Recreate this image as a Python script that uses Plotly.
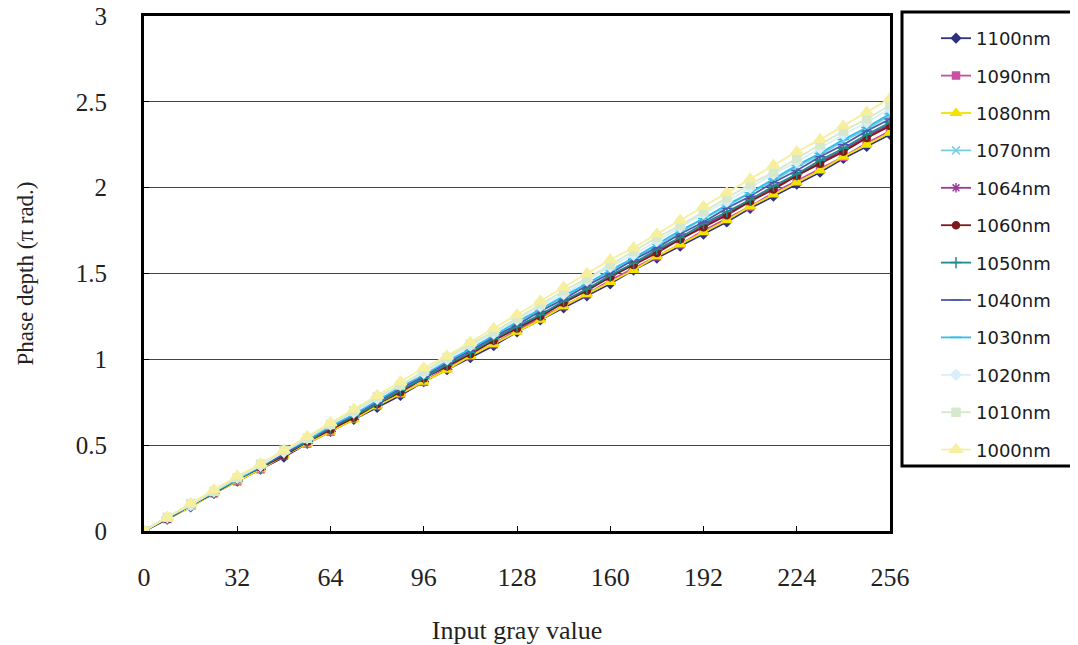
import plotly.graph_objects as go

# Input gray values (x)
gray = [0, 8, 16, 24, 32, 40, 48, 56, 64, 72, 80, 88, 96, 104, 112, 120, 128,
        136, 144, 152, 160, 168, 176, 184, 192, 200, 208, 216, 224, 232, 240, 248, 256]

# Phase depth (pi rad.), per wavelength
p1100 = [0, 0.07, 0.14, 0.22, 0.29, 0.36, 0.43, 0.51, 0.58, 0.65, 0.72, 0.79, 0.87, 0.94, 1.01, 1.08, 1.16,
         1.23, 1.30, 1.37, 1.44, 1.52, 1.59, 1.66, 1.73, 1.80, 1.88, 1.95, 2.02, 2.09, 2.17, 2.24, 2.31]
p1090 = [0, 0.07, 0.15, 0.22, 0.29, 0.36, 0.44, 0.51, 0.58, 0.66, 0.73, 0.80, 0.87, 0.95, 1.02, 1.09, 1.17,
         1.24, 1.31, 1.38, 1.46, 1.53, 1.60, 1.67, 1.75, 1.82, 1.89, 1.97, 2.04, 2.11, 2.18, 2.26, 2.33]
p1080 = [0, 0.07, 0.14, 0.22, 0.29, 0.36, 0.44, 0.51, 0.58, 0.65, 0.73, 0.80, 0.87, 0.94, 1.02, 1.09, 1.16,
         1.23, 1.31, 1.38, 1.45, 1.52, 1.60, 1.67, 1.74, 1.81, 1.89, 1.96, 2.03, 2.10, 2.18, 2.25, 2.32]
p1070 = [0, 0.08, 0.15, 0.23, 0.30, 0.38, 0.45, 0.53, 0.61, 0.68, 0.76, 0.83, 0.91, 0.98, 1.06, 1.13, 1.21,
         1.29, 1.36, 1.44, 1.51, 1.59, 1.66, 1.74, 1.82, 1.89, 1.97, 2.04, 2.12, 2.19, 2.27, 2.34, 2.42]
p1064 = [0, 0.07, 0.15, 0.22, 0.30, 0.37, 0.44, 0.52, 0.59, 0.67, 0.74, 0.81, 0.89, 0.96, 1.04, 1.11, 1.19,
         1.26, 1.33, 1.41, 1.48, 1.56, 1.63, 1.70, 1.78, 1.85, 1.93, 2.00, 2.07, 2.15, 2.22, 2.30, 2.37]
p1060 = [0, 0.07, 0.15, 0.22, 0.30, 0.37, 0.44, 0.52, 0.59, 0.66, 0.74, 0.81, 0.89, 0.96, 1.03, 1.11, 1.18,
         1.25, 1.33, 1.40, 1.48, 1.55, 1.62, 1.70, 1.77, 1.84, 1.92, 1.99, 2.07, 2.14, 2.21, 2.29, 2.36]
p1050 = [0, 0.07, 0.15, 0.22, 0.30, 0.37, 0.45, 0.52, 0.60, 0.67, 0.74, 0.82, 0.89, 0.97, 1.04, 1.12, 1.19,
         1.26, 1.34, 1.41, 1.49, 1.56, 1.64, 1.71, 1.79, 1.86, 1.93, 2.01, 2.08, 2.16, 2.23, 2.31, 2.38]
p1040 = [0, 0.08, 0.15, 0.23, 0.30, 0.38, 0.45, 0.53, 0.60, 0.68, 0.75, 0.83, 0.90, 0.98, 1.05, 1.13, 1.20,
         1.28, 1.35, 1.43, 1.50, 1.58, 1.65, 1.73, 1.80, 1.88, 1.95, 2.03, 2.10, 2.18, 2.25, 2.33, 2.40]
p1030 = [0, 0.08, 0.15, 0.23, 0.30, 0.38, 0.46, 0.53, 0.61, 0.68, 0.76, 0.84, 0.91, 0.99, 1.06, 1.14, 1.22,
         1.29, 1.37, 1.44, 1.52, 1.59, 1.67, 1.75, 1.82, 1.90, 1.97, 2.05, 2.13, 2.20, 2.28, 2.35, 2.43]
p1020 = [0, 0.08, 0.15, 0.23, 0.31, 0.38, 0.46, 0.54, 0.62, 0.69, 0.77, 0.85, 0.92, 1.00, 1.08, 1.15, 1.23,
         1.31, 1.38, 1.46, 1.54, 1.61, 1.69, 1.77, 1.85, 1.92, 2.00, 2.08, 2.15, 2.23, 2.31, 2.38, 2.46]
p1010 = [0, 0.08, 0.16, 0.23, 0.31, 0.39, 0.47, 0.54, 0.62, 0.70, 0.78, 0.85, 0.93, 1.01, 1.09, 1.16, 1.24,
         1.32, 1.40, 1.47, 1.55, 1.63, 1.71, 1.78, 1.86, 1.94, 2.02, 2.09, 2.17, 2.25, 2.33, 2.40, 2.48]
p1000 = [0, 0.08, 0.16, 0.24, 0.32, 0.39, 0.47, 0.55, 0.63, 0.71, 0.79, 0.87, 0.95, 1.02, 1.10, 1.18, 1.26,
         1.34, 1.42, 1.50, 1.58, 1.65, 1.73, 1.81, 1.89, 1.97, 2.05, 2.13, 2.21, 2.28, 2.36, 2.44, 2.52]

names = ["1100nm", "1090nm", "1080nm", "1070nm", "1064nm", "1060nm",
         "1050nm", "1040nm", "1030nm", "1020nm", "1010nm", "1000nm"]
series = [p1100, p1090, p1080, p1070, p1064, p1060, p1050, p1040, p1030, p1020, p1010, p1000]
colors = ["#2E3080", "#C84FA2", "#F2E200", "#7ACFE0", "#9A3A9A", "#7E1A1A",
          "#1E8C8A", "#4A5AAE", "#33BDEB", "#D8EEF8", "#D6E9CC", "#F6EFA0"]
symbols = ["diamond", "square", "triangle-up", "x-thin-open", "asterisk-open", "circle",
           "cross-thin-open", "line-ew-open", "line-ew-open", "diamond", "square", "triangle-up"]
sizes = [7, 7, 9, 8, 8, 7, 8, 8, 8, 8, 8, 11]

fig = go.Figure()
for nm, ys, c, s, sz in zip(names, series, colors, symbols, sizes):
    fig.add_trace(go.Scatter(
        x=gray, y=ys, name=nm, mode="lines+markers",
        line=dict(color=c, width=1.8),
        marker=dict(symbol=s, size=sz, color=c, line=dict(color=c, width=1.5)),
        legendgroup=nm,
    ))

# page body has an 8px margin; figure is sized so that it fits the 1078x645 window
OFF = 8
W, H = 1078 - OFF, 645 - OFF
L, T = 144 - OFF, 16 - OFF
R = W - (890 - OFF)
B = H - (531 - OFF)
pw = W - L - R
ph = H - T - B

def px(x):
    return (x - OFF - L) / pw

def py(y):
    return (H - B - (y - OFF)) / ph

serif = "Liberation Serif"
fig.update_layout(
    width=W, height=H,
    margin=dict(l=L, r=R, t=T, b=B, autoexpand=False),
    paper_bgcolor="white", plot_bgcolor="white",
    showlegend=True,
    legend=dict(
        xref="container", yref="container",
        x=(936 - OFF) / W, y=1 - (20 - OFF) / H, xanchor="left", yanchor="top",
        bgcolor="rgba(0,0,0,0)", borderwidth=0, maxheight=600,
        font=dict(family="DejaVu Sans", size=18, color="#1a1a1a"),
        tracegroupgap=11, itemwidth=30,
    ),
    xaxis=dict(
        range=[0, 256], tickmode="array", tickvals=[0, 32, 64, 96, 128, 160, 192, 224, 256],
        ticks="inside", ticklen=5, tickcolor="black", showgrid=False, zeroline=False,
        showline=True, linecolor="black", linewidth=3, mirror=True, automargin=False,
        tickfont=dict(family=serif, size=26, color="#222"), ticklabelstandoff=21,
        ticklabeloverflow="allow",
        title=dict(text="Input gray value", font=dict(family=serif, size=26, color="#222"), standoff=32),
    ),
    yaxis=dict(
        range=[0, 3], tickmode="array", tickvals=[0, 0.5, 1, 1.5, 2, 2.5, 3],
        ticktext=["0", "0.5", "1", "1.5", "2", "2.5", "3"],
        ticks="inside", ticklen=5, tickcolor="black",
        showgrid=True, gridcolor="#444", gridwidth=1, zeroline=False,
        showline=True, linecolor="black", linewidth=3, mirror=True, automargin=False,
        tickfont=dict(family=serif, size=25, color="#222"), ticklabelstandoff=29,
        ticklabeloverflow="allow",
        title=dict(text="Phase depth (π rad.)", font=dict(family=serif, size=23, color="#222"), standoff=36),
    ),
    shapes=[dict(type="rect", xref="paper", yref="paper",
                 x0=px(902), x1=px(1076), y0=py(466), y1=py(12),
                 line=dict(color="black", width=3), fillcolor="rgba(0,0,0,0)")],
)

fig.write_html("out.html")
